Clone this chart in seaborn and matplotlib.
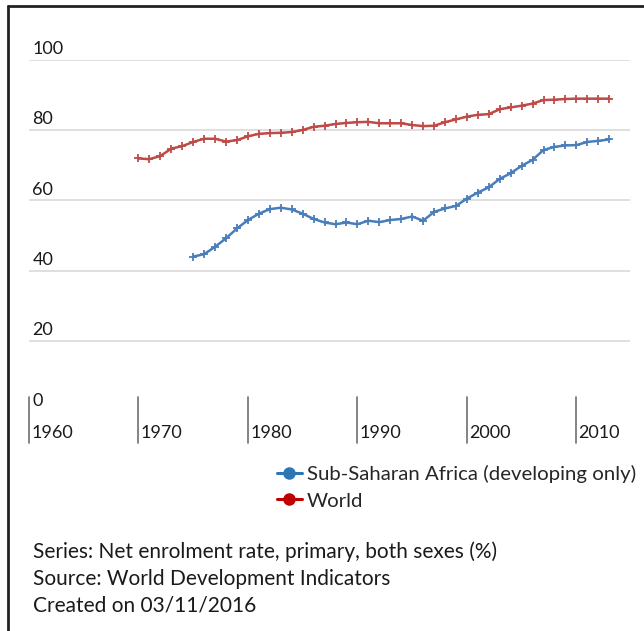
import numpy as np
import pandas as pd
import seaborn as sns
import matplotlib
matplotlib.use('Agg')
import matplotlib.pyplot as plt
from matplotlib.lines import Line2D

# net enrolment rate, primary (%)
ssa_years = list(range(1975, 2014))
ssa_values = [44.0, 44.7, 46.8, 49.2, 52.0, 54.4, 56.2, 57.5, 57.9, 57.4,
              56.2, 54.7, 53.7, 53.2, 53.7, 53.2, 54.2, 53.8, 54.4, 54.7,
              55.4, 54.2, 56.7, 57.7, 58.4, 60.5, 62.2, 63.7, 66.1, 67.7,
              69.8, 71.5, 74.3, 75.2, 75.6, 75.7, 76.6, 76.9, 77.3]
world_years = list(range(1970, 2014))
world_values = [71.9, 71.7, 72.6, 74.7, 75.4, 76.6, 77.5, 77.5, 76.7, 77.1,
                78.2, 78.9, 79.1, 79.2, 79.4, 80.0, 80.9, 81.2, 81.7, 82.0,
                82.2, 82.3, 81.9, 81.9, 81.9, 81.4, 81.1, 81.2, 82.2, 83.0,
                83.8, 84.3, 84.5, 85.9, 86.4, 86.9, 87.5, 88.5, 88.6, 88.8,
                88.9, 88.9, 88.9, 88.9]
series_names = ['Sub-Saharan Africa (developing only)', 'World']
x_ticks = [1960, 1970, 1980, 1990, 2000, 2010]
y_ticks = [0, 20, 40, 60, 80, 100]
notes = ['Series: Net enrolment rate, primary, both sexes (%)',
         'Source: World Development Indicators',
         'Created on 03/11/2016']

df = pd.concat([
    pd.DataFrame({'year': ssa_years, 'value': ssa_values, 'series': series_names[0]}),
    pd.DataFrame({'year': world_years, 'value': world_values, 'series': series_names[1]}),
])

sns.set_style('white')
plt.rcParams['font.family'] = ['Lato', 'DejaVu Sans']

fig = plt.figure(figsize=(6.44, 6.31), dpi=100)
ax = fig.add_axes([29 / 644, 1 - 411.4 / 631, 601 / 644, 351.8 / 631])

line_cols = {series_names[0]: '#4a7ebb', series_names[1]: '#be4b48'}
sns.lineplot(data=df, x='year', y='value', hue='series', palette=line_cols,
             marker='+', markersize=6, markeredgewidth=1.3, linewidth=1.8,
             legend=False, ax=ax)
# seaborn paints marker edges white; give the crosses the line colour
for ln in ax.lines:
    ln.set_markeredgecolor(ln.get_color())

ax.set_xlim(1960, 2014.9)
ax.set_ylim(0, 100)
for s in ax.spines.values():
    s.set_visible(False)
ax.set_xlabel('')
ax.set_ylabel('')
ax.set_xticks([])
ax.set_yticks([])

# horizontal gridlines (none at zero)
for v in y_ticks[1:]:
    ax.axhline(v, color='#d9d9d9', lw=1.2, zorder=0)
# y labels sit just above their gridline
for v in y_ticks:
    ax.annotate(str(v), xy=(0, v), xycoords=('axes fraction', 'data'),
                xytext=(2.5, 2), textcoords='offset points',
                ha='left', va='bottom', fontsize=13, color='#1a1a1a')

# x ticks: vertical marks crossing the baseline, labels to the right
for yr in x_ticks:
    ax.axvline(yr, ymin=-0.09, ymax=0.041, color='#6f6f6f', lw=1.2, clip_on=False)
    ax.annotate(str(yr), xy=(yr, 0), xycoords='data',
                xytext=(1.5, -15.5), textcoords='offset points',
                ha='left', va='center', fontsize=13, color='#1a1a1a')

handles = [Line2D([], [], color='#2e75b6', marker='o', markersize=8, lw=2.2),
           Line2D([], [], color='#c00000', marker='o', markersize=8, lw=2.2)]
fig.legend(handles, series_names, loc='upper left',
           bbox_to_anchor=(277 / 644, 1 - 465 / 631), frameon=False,
           fontsize=14.7, handlelength=1.2, handletextpad=0.25, labelspacing=0.45,
           borderpad=0, borderaxespad=0)

for i, t in enumerate(notes):
    fig.text(33 / 644, 1 - (552 + 27 * i) / 631, t, ha='left', va='center',
             fontsize=15, color='#1a1a1a')

# frame lines on the left and top edges
fig.add_artist(Line2D([8 / 644, 8 / 644], [0, 1 - 6 / 631], color='#222222', lw=2,
                      transform=fig.transFigure))
fig.add_artist(Line2D([8 / 644, 1], [1 - 6 / 631, 1 - 6 / 631], color='#222222', lw=2,
                      transform=fig.transFigure))

fig.savefig('out.png', dpi=100, facecolor='white')
